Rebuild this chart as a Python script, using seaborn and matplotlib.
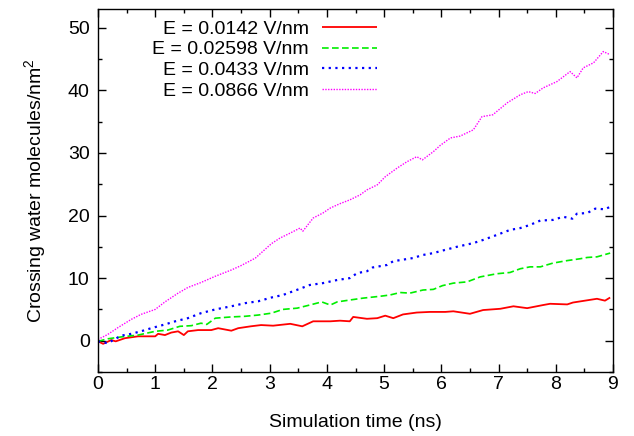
import numpy as np
import pandas as pd
import matplotlib
matplotlib.use("Agg")
import matplotlib.pyplot as plt
import seaborn as sns
from matplotlib.ticker import MultipleLocator

# ---- data ----
labels = ["E = 0.0142 V/nm", "E = 0.02598 V/nm", "E = 0.0433 V/nm", "E = 0.0866 V/nm"]
colors = ["#ff0000", "#00ee00", "#0000ff", "#ff00ff"]

t_red = [0, 0.09, 0.23, 0.31, 0.47, 0.7, 1.0, 1.05, 1.17, 1.28, 1.4, 1.5, 1.57, 1.75, 1.98, 2.1,
         2.33, 2.45, 2.67, 2.85, 3.06, 3.36, 3.57, 3.76, 4.06, 4.23, 4.4, 4.46, 4.7, 4.88, 5.02,
         5.16, 5.33, 5.57, 5.8, 6.07, 6.21, 6.5, 6.73, 7.03, 7.26, 7.5, 7.78, 7.9, 8.2, 8.3, 8.72,
         8.86, 8.95]
v_red = [-0.1, -0.5, 0.1, -0.1, 0.4, 0.7, 0.7, 1.1, 0.9, 1.3, 1.5, 0.9, 1.5, 1.7, 1.7, 2.0,
         1.6, 2.0, 2.3, 2.5, 2.4, 2.7, 2.3, 3.1, 3.1, 3.2, 3.1, 3.8, 3.5, 3.6, 4.0,
         3.6, 4.2, 4.5, 4.6, 4.6, 4.7, 4.3, 4.9, 5.1, 5.5, 5.2, 5.7, 5.9, 5.8, 6.1, 6.7,
         6.4, 6.9]

t_green = [0, 0.17, 0.4, 0.7, 1.0, 1.22, 1.43, 1.63, 1.8, 1.9, 2.05, 2.33, 2.57, 2.8, 3.03,
           3.23, 3.48, 3.7, 3.91, 4.06, 4.18, 4.4, 4.63, 4.93, 5.1, 5.28, 5.45, 5.68, 5.86,
           6.02, 6.21, 6.45, 6.68, 6.97, 7.2, 7.38, 7.55, 7.73, 7.95, 8.2, 8.43, 8.55, 8.72, 8.95]
v_green = [-0.1, 0.3, 0.6, 0.9, 1.5, 1.7, 2.3, 2.4, 2.8, 2.6, 3.6, 3.8, 3.9, 4.1, 4.4,
           5.0, 5.2, 5.7, 6.2, 5.7, 6.2, 6.5, 6.8, 7.1, 7.3, 7.7, 7.6, 8.1, 8.2,
           8.8, 9.2, 9.4, 10.2, 10.7, 10.9, 11.5, 11.8, 11.8, 12.4, 12.8, 13.1, 13.3, 13.4, 14.0]

t_blue = [0, 0.17, 0.4, 0.58, 0.75, 0.93, 1.17, 1.35, 1.57, 1.8, 2.05, 2.33, 2.57, 2.8, 3.03,
          3.23, 3.53, 3.7, 3.93, 4.18, 4.4, 4.53, 4.7, 4.8, 5.05, 5.16, 5.5, 5.68, 5.86, 6.02,
          6.27, 6.56, 6.73, 6.97, 7.2, 7.38, 7.55, 7.73, 7.95, 8.13, 8.29, 8.37, 8.55, 8.69,
          8.86, 8.95]
v_blue = [-0.1, -0.4, 0.8, 1.1, 1.5, 2.0, 2.6, 3.1, 3.6, 4.4, 5.0, 5.5, 6.0, 6.3, 6.9,
          7.3, 8.3, 8.9, 9.2, 9.7, 10.0, 10.8, 11.1, 11.7, 12.1, 12.7, 13.2, 13.7, 14.0, 14.4,
          15.0, 15.6, 16.1, 16.9, 17.7, 18.0, 18.5, 19.2, 19.3, 19.8, 19.5, 20.3, 20.4, 21.1,
          21.0, 21.4]

t_mag = [0, 0.17, 0.35, 0.58, 0.75, 1.0, 1.17, 1.4, 1.57, 1.8, 2.05, 2.33, 2.5, 2.75, 3.03,
         3.18, 3.36, 3.53, 3.58, 3.76, 3.93, 4.06, 4.23, 4.4, 4.58, 4.7, 4.88, 5.02, 5.23, 5.4,
         5.57, 5.67, 5.86, 5.98, 6.16, 6.33, 6.56, 6.71, 6.9, 7.15, 7.38, 7.52, 7.64, 7.78,
         8.02, 8.25, 8.37, 8.48, 8.66, 8.83, 8.95]
v_mag = [0.2, 1.0, 2.1, 3.4, 4.2, 5.0, 6.2, 7.6, 8.5, 9.3, 10.3, 11.3, 12.0, 13.2, 15.5,
         16.4, 17.2, 18.0, 17.5, 19.6, 20.4, 21.2, 21.9, 22.5, 23.3, 24.1, 24.9, 26.2, 27.6, 28.6,
         29.4, 28.9, 30.2, 31.2, 32.4, 32.7, 33.7, 35.8, 36.1, 38.0, 39.3, 39.8, 39.5, 40.4,
         41.4, 43.0, 42.0, 43.6, 44.4, 46.2, 45.7]

series_t = [t_red, t_green, t_blue, t_mag]
series_v = [v_red, v_green, v_blue, v_mag]
styles = [(0, ()), (0, (4, 2)), (0, (1, 2)), (0, (1, 1))]
widths = [1.3, 1.2, 1.6, 1.0]

sns.set_style("ticks")
plt.rcParams["font.family"] = ["Liberation Sans", "DejaVu Sans"]
plt.rcParams.update({
    "text.color": "black", "axes.labelcolor": "black",
    "xtick.color": "black", "ytick.color": "black",
    "mathtext.fontset": "custom", "mathtext.rm": "Liberation Sans",
    "mathtext.it": "Liberation Sans:italic",
    "xtick.direction": "in", "ytick.direction": "in",
    "xtick.top": True, "ytick.right": True,
    "xtick.major.size": 6, "ytick.major.size": 6,
    "xtick.minor.size": 3, "ytick.minor.size": 3,
    "xtick.minor.visible": True, "ytick.minor.visible": True,
    "xtick.major.pad": 3, "ytick.major.pad": 6,
})

FS = 14
fig = plt.figure(figsize=(6.34, 4.36), dpi=100)
ax = fig.add_axes([98 / 634, 1 - 372 / 436, (613 - 98) / 634, (372 - 9) / 436])

for t, v, lab, c, ls, lw in zip(series_t, series_v, labels, colors, styles, widths):
    df = pd.DataFrame({"t": t, "v": v})
    sns.lineplot(data=df, x="t", y="v", ax=ax, color=c, label=lab,
                 linestyle=ls, linewidth=lw, estimator=None, sort=False)

ax.set_xlim(0, 9)
ax.set_ylim(-5, 53)
ax.xaxis.set_major_locator(MultipleLocator(1))
ax.xaxis.set_minor_locator(MultipleLocator(0.5))
ax.yaxis.set_major_locator(MultipleLocator(10))
ax.yaxis.set_minor_locator(MultipleLocator(5))
ax.tick_params(labelsize=FS, width=1, colors="black")
ax.tick_params(which="minor", width=1)
for s in ax.spines.values():
    s.set_linewidth(1)
    s.set_color("black")

ax.set_xlabel("Simulation time (ns)", fontsize=FS, labelpad=15)
ax.set_ylabel("Crossing water molecules/nm$\\mathregular{^2}$", fontsize=FS, labelpad=14)

leg = ax.legend(markerfirst=False, frameon=False, fontsize=FS,
                loc="upper right", bbox_to_anchor=(377 / 634, 1 - 20 / 436),
                bbox_transform=fig.transFigure, borderpad=0, borderaxespad=0,
                labelspacing=0.16, handlelength=2.85, handletextpad=0.65)
for txt in leg.get_texts():
    txt.set_color("black")

fig.savefig("out.png", dpi=100)
